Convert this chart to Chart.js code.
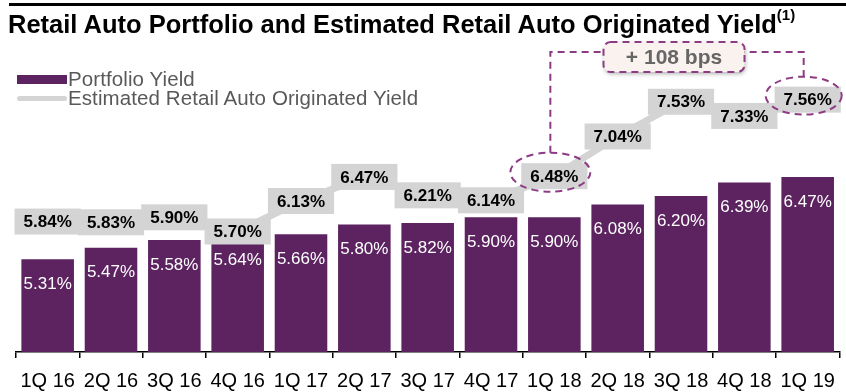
<!DOCTYPE html>
<html>
<head>
<meta charset="utf-8">
<script src="https://cdn.jsdelivr.net/npm/chart.js@4.4.1/dist/chart.umd.min.js"></script>
<style>
  html, body { margin: 0; padding: 0; background: #fff; }
  #wrap { position: relative; width: 846px; height: 392px; overflow: hidden; font-family: 'Liberation Sans', Arial, sans-serif; }
  #rule { position: absolute; left: 9px; top: 3px; width: 837px; height: 3px; background: #000; }
  #title { position: absolute; left: 8px; top: 9px; font-size: 25.5px; font-weight: bold; color: #000; white-space: nowrap; }
  #title sup { font-size: 15px; position: relative; top: -3px; }
  .leg { position: absolute; left: 17px; font-size: 20.5px; letter-spacing: 0.1px; color: #595959; white-space: nowrap; }
  .leg span { display: inline-block; width: 50px; vertical-align: middle; margin-right: 1px; }
  #c { position: absolute; left: 0; top: 0; }
</style>
</head>
<body>
<div id="wrap">
  <canvas id="c" width="846" height="392"></canvas>
  <div id="rule"></div>
  <div id="title">Retail Auto Portfolio and Estimated Retail Auto Originated Yield<sup>(1)</sup></div>
  <div class="leg" style="top:67px"><span style="height:9px;background:#5c2360;position:relative;top:-1px"></span>Portfolio Yield</div>
  <div class="leg" style="top:86px"><span style="height:5px;background:#d4d4d4;border-radius:3px;position:relative;top:-1px"></span>Estimated Retail Auto Originated Yield</div>
</div>
<script>
const quarters = ['1Q 16', '2Q 16', '3Q 16', '4Q 16', '1Q 17', '2Q 17', '3Q 17', '4Q 17', '1Q 18', '2Q 18', '3Q 18', '4Q 18', '1Q 19'];
const portfolioYield = [5.31, 5.47, 5.58, 5.64, 5.66, 5.80, 5.82, 5.90, 5.90, 6.08, 6.20, 6.39, 6.47];
const originatedYield = [5.84, 5.83, 5.90, 5.70, 6.13, 6.47, 6.21, 6.14, 6.48, 7.04, 7.53, 7.33, 7.56];

const purple = '#5c2360';
const grey = '#d4d4d4';
const dashColor = '#8e3b85';
const fontFam = "'Liberation Sans', Arial, sans-serif";

// labels on bars and on the line
const labelPlugin = {
    id: 'labels',
    afterDatasetsDraw(chart) {
        const ctx = chart.ctx;
        ctx.save();
        ctx.textAlign = 'center';
        ctx.textBaseline = 'middle';

        chart.getDatasetMeta(0).data.forEach(function(bar, i) {
            ctx.fillStyle = '#fff';
            ctx.font = '17px ' + fontFam;
            ctx.fillText(portfolioYield[i].toFixed(2) + '%', bar.x, bar.y + 25);
        });

        chart.getDatasetMeta(1).data.forEach(function(pt, i) {
            const txt = originatedYield[i].toFixed(2) + '%';
            ctx.font = 'bold 17px ' + fontFam;
            const w = ctx.measureText(txt).width + 18;
            const h = 26;
            ctx.fillStyle = grey;
            ctx.fillRect(pt.x - w / 2, pt.y - h / 2, w, h);
            ctx.fillStyle = '#000';
            ctx.fillText(txt, pt.x, pt.y + 1);
        });
        ctx.restore();
    }
};

// dashed ellipses, bracket and "+ 108 bps" box
const calloutPlugin = {
    id: 'callout',
    afterDraw(chart) {
        const ctx = chart.ctx;
        const pts = chart.getDatasetMeta(1).data;
        const a = pts[8], b = pts[12];
        const ax = a.x - 4, ay = a.y - 4, bx = b.x - 4, by = b.y - 4;
        const rx = 40, ry = 19.5;
        const topY = 52;

        ctx.save();
        ctx.strokeStyle = dashColor;
        ctx.lineWidth = 2;
        ctx.setLineDash([7, 5]);

        ctx.beginPath();
        ctx.ellipse(ax, ay, rx, ry, 0, 0, Math.PI * 2);
        ctx.stroke();
        ctx.beginPath();
        ctx.ellipse(bx, by, 38, 19, 0, 0, Math.PI * 2);
        ctx.stroke();

        ctx.beginPath();
        ctx.moveTo(ax, ay - ry);
        ctx.lineTo(ax, topY);
        ctx.lineTo(bx, topY);
        ctx.lineTo(bx, by - 19);
        ctx.stroke();

        // box
        const bw = 141, bh = 30;
        const cx = (ax + bx) / 2 - 3;
        const x0 = cx - bw / 2, y0 = topY - 10;
        ctx.setLineDash([]);
        ctx.shadowColor = 'rgba(0,0,0,0.3)';
        ctx.shadowBlur = 4;
        ctx.shadowOffsetX = 1;
        ctx.shadowOffsetY = 2;
        ctx.fillStyle = '#f9f2ee';
        ctx.beginPath();
        ctx.roundRect(x0, y0, bw, bh, 7);
        ctx.fill();
        ctx.shadowColor = 'transparent';
        ctx.setLineDash([7, 5]);
        ctx.stroke();

        ctx.fillStyle = '#666';
        ctx.font = 'bold 21px ' + fontFam;
        ctx.textAlign = 'center';
        ctx.textBaseline = 'middle';
        ctx.fillText('+ 108 bps', cx, y0 + bh / 2 + 1);
        ctx.restore();
    }
};

const chart = new Chart(document.getElementById('c').getContext('2d'), {
    type: 'bar',
    data: {
        labels: quarters,
        datasets: [{
            label: 'Portfolio Yield',
            data: portfolioYield,
            backgroundColor: purple,
            categoryPercentage: 1,
            barPercentage: 0.83,
            order: 2
        }, {
            type: 'line',
            label: 'Estimated Retail Auto Originated Yield',
            data: originatedYield,
            borderColor: grey,
            borderWidth: 7,
            pointRadius: 0,
            tension: 0,
            order: 1
        }]
    },
    options: {
        responsive: false,
        animation: false,
        devicePixelRatio: 1,
        layout: {
            padding: { top: 33, left: 16, right: 2, bottom: -12 }
        },
        scales: {
            x: {
                grid: {
                    offset: true,
                    drawOnChartArea: false,
                    drawTicks: true,
                    tickLength: 6,
                    color: '#000',
                    lineWidth: 1.5
                },
                border: { display: true, color: '#000', width: 1.5 },
                ticks: {
                    color: '#000',
                    padding: 11,
                    maxRotation: 0,
                    autoSkip: false,
                    font: { family: fontFam, size: 20 }
                }
            },
            y: {
                display: false,
                min: 4,
                max: 8.5
            }
        },
        plugins: {
            legend: { display: false },
            tooltip: { enabled: false }
        }
    },
    plugins: [labelPlugin, calloutPlugin]
});
</script>
</body>
</html>
